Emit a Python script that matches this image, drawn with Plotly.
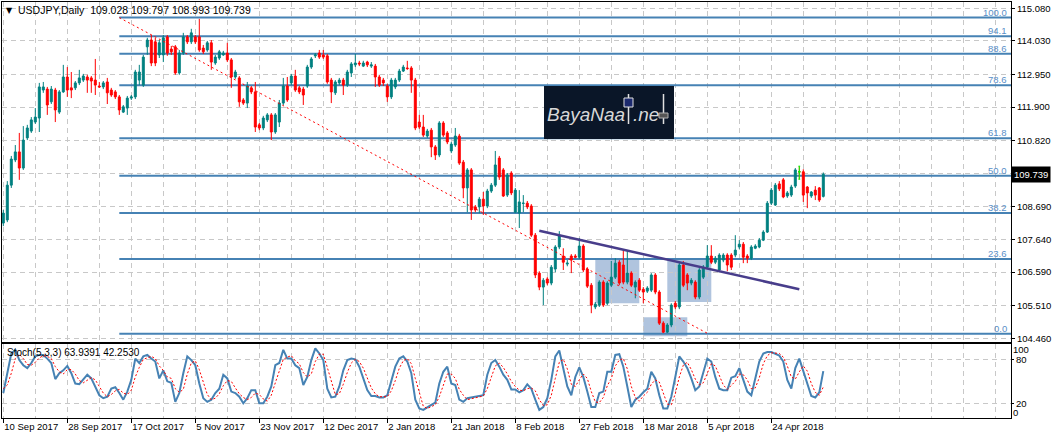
import plotly.graph_objects as go

# ---------------- data ----------------
date_labels = ["10 Sep 2017", "28 Sep 2017", "17 Oct 2017", "5 Nov 2017", "23 Nov 2017",
               "12 Dec 2017", "2 Jan 2018", "21 Jan 2018", "8 Feb 2018", "27 Feb 2018",
               "18 Mar 2018", "5 Apr 2018", "24 Apr 2018"]
date_label_bars = [0, 16, 32, 48, 64, 80, 96, 112, 128, 144, 160, 176, 192]

open_ = [
    108.17, 108.27, 109.39, 110.20, 110.46, 109.94, 110.91, 111.13, 111.42, 111.55,
    112.45, 112.48, 112.07, 112.45, 111.74, 112.39, 112.87, 112.52, 112.52, 112.68,
    112.77, 112.87, 112.84, 112.77, 112.58, 112.55, 112.71, 112.45, 112.39, 112.23,
    111.74, 111.87, 112.19, 112.23, 112.77, 112.61, 113.84, 114.06, 114.00, 113.58,
    113.58, 114.16, 113.77, 113.84, 113.00, 113.64, 114.16, 114.00, 114.16, 114.16,
    113.80, 113.74, 113.97, 113.32, 113.48, 113.58, 113.64, 113.42, 112.87, 112.84,
    112.13, 112.03, 112.52, 112.39, 111.33, 111.23, 111.49, 111.65, 111.10, 111.42,
    112.03, 112.58, 112.68, 112.90, 112.52, 112.48, 112.58, 113.19, 113.55, 113.64,
    113.58, 113.55, 112.77, 112.36, 112.68, 112.77, 112.61, 113.00, 113.26, 113.32,
    113.22, 113.35, 113.22, 113.22, 112.87, 112.77, 112.58, 112.23, 112.55, 112.77,
    113.06, 113.16, 113.16, 112.77, 111.42, 111.26, 110.97, 111.16, 110.62, 110.36,
    111.39, 111.07, 110.49, 110.68, 110.97, 110.13, 109.30, 109.88, 108.69, 108.69,
    108.94, 108.72, 109.20, 109.39, 110.26, 109.88, 109.07, 109.78, 108.52, 108.49,
    108.80, 108.81, 108.72, 107.78, 106.56, 106.11, 106.37, 106.24, 106.69, 107.40,
    107.11, 106.85, 107.11, 107.11, 107.07, 107.43, 106.69, 106.17, 105.47, 105.53,
    106.27, 105.59, 106.17, 106.43, 106.91, 106.82, 106.27, 106.56, 106.11, 106.33,
    106.04, 105.98, 106.01, 106.50, 105.95, 104.95, 104.66, 104.89, 105.59, 105.47,
    106.82, 106.50, 106.24, 106.27, 105.79, 106.43, 106.75, 107.11, 106.91, 106.66,
    106.98, 107.14, 107.14, 107.14, 107.40, 107.49, 107.11, 107.04, 107.36, 107.40,
    107.62, 107.88, 108.81, 108.75, 109.43, 109.56, 109.04, 109.07, 109.36, 109.82,
    109.82, 109.33, 109.04, 109.23, 109.30, 109.028]

high_ = [
    108.59, 109.52, 110.33, 110.68, 111.07, 111.29, 111.33, 111.58, 111.87, 112.68,
    112.71, 112.55, 112.58, 112.52, 112.45, 113.26, 113.19, 113.03, 112.74, 113.10,
    112.97, 112.94, 112.90, 113.45, 112.71, 112.74, 112.84, 112.52, 112.45, 112.29,
    111.97, 112.26, 112.29, 113.10, 113.26, 113.58, 114.13, 114.22, 114.13, 114.06,
    114.22, 114.22, 113.87, 113.90, 113.74, 114.29, 114.22, 114.42, 114.22, 114.74,
    113.90, 114.03, 114.06, 113.58, 113.74, 113.71, 113.97, 113.48, 113.10, 112.90,
    112.19, 112.71, 112.58, 112.71, 111.39, 111.62, 111.71, 111.71, 111.71, 112.13,
    112.84, 112.87, 112.97, 113.10, 112.58, 112.55, 113.26, 113.51, 113.64, 113.74,
    113.74, 113.61, 112.84, 112.77, 112.84, 112.84, 113.10, 113.35, 113.61, 113.39,
    113.39, 113.39, 113.35, 113.29, 112.94, 112.84, 112.65, 112.84, 112.84, 113.13,
    113.26, 113.39, 113.22, 112.84, 111.65, 111.65, 111.20, 111.23, 110.68, 111.45,
    111.45, 111.13, 110.78, 111.23, 111.04, 110.20, 109.94, 109.94, 108.75, 109.01,
    109.17, 109.27, 109.46, 110.49, 110.33, 109.94, 109.78, 109.84, 109.30, 109.23,
    109.07, 108.88, 108.78, 107.85, 106.62, 106.40, 106.43, 106.82, 107.46, 107.91,
    107.36, 106.98, 107.17, 107.17, 107.69, 107.49, 106.75, 106.24, 105.63, 106.33,
    106.33, 106.30, 106.95, 107.04, 106.98, 107.30, 107.30, 106.62, 106.33, 106.40,
    106.11, 106.14, 106.56, 106.56, 106.01, 105.01, 104.95, 105.59, 105.66, 106.91,
    106.95, 106.56, 106.40, 106.33, 106.72, 106.82, 107.46, 107.46, 107.11, 107.20,
    107.20, 107.20, 107.20, 107.78, 107.62, 107.56, 107.17, 107.46, 107.49, 107.69,
    107.94, 108.88, 109.30, 109.46, 109.52, 109.62, 109.20, 109.40, 109.94, 110.00,
    109.90, 109.36, 109.20, 109.36, 109.33, 109.797]

low_ = [
    108.07, 108.20, 109.30, 110.13, 109.56, 109.88, 110.84, 111.07, 111.36, 111.10,
    112.36, 111.65, 112.00, 111.42, 111.68, 112.36, 112.23, 112.19, 112.45, 112.61,
    112.71, 112.36, 112.36, 112.29, 112.52, 112.48, 112.00, 112.23, 112.16, 111.65,
    111.71, 111.65, 112.13, 112.16, 112.61, 112.55, 113.58, 113.22, 113.22, 113.48,
    113.35, 113.55, 113.58, 112.94, 112.94, 113.58, 113.93, 113.93, 113.93, 113.68,
    113.61, 113.68, 113.10, 113.26, 113.42, 113.55, 113.35, 112.52, 112.81, 111.91,
    111.97, 111.87, 112.32, 111.10, 111.16, 111.16, 111.42, 110.84, 111.04, 111.26,
    111.97, 112.07, 112.61, 112.39, 112.32, 111.97, 112.52, 113.13, 113.48, 113.45,
    113.45, 112.65, 112.03, 112.29, 112.61, 112.29, 112.55, 112.87, 113.19, 113.22,
    113.19, 113.19, 113.16, 112.55, 112.55, 112.58, 112.07, 112.16, 112.48, 112.71,
    113.03, 113.10, 112.36, 111.16, 111.20, 110.94, 110.91, 110.29, 110.20, 110.29,
    110.94, 110.71, 110.42, 110.62, 110.04, 108.97, 108.52, 108.27, 108.52, 108.49,
    108.43, 108.65, 109.14, 109.33, 109.56, 109.01, 109.01, 109.07, 108.49, 108.01,
    108.52, 108.62, 107.72, 106.40, 106.01, 105.53, 106.17, 106.17, 106.59, 107.33,
    106.66, 106.78, 106.56, 107.04, 107.01, 106.59, 106.08, 105.27, 105.40, 105.47,
    105.47, 105.53, 106.11, 106.37, 106.17, 106.20, 106.20, 106.11, 105.75, 105.95,
    105.59, 105.92, 105.95, 105.88, 104.89, 104.63, 104.63, 104.82, 105.40, 105.40,
    106.11, 106.01, 106.17, 105.72, 105.72, 106.37, 106.69, 106.85, 106.85, 106.59,
    106.91, 106.62, 106.66, 107.07, 107.33, 106.88, 106.88, 106.98, 107.33, 107.36,
    107.59, 107.85, 108.75, 108.72, 109.20, 108.97, 108.98, 109.01, 109.30, 109.58,
    108.85, 108.65, 108.98, 108.91, 108.85, 108.993]

close_ = [
    108.49, 109.39, 110.23, 110.46, 109.94, 110.84, 111.23, 111.49, 111.58, 112.55,
    112.55, 111.97, 112.48, 111.81, 112.39, 112.87, 112.45, 112.45, 112.68, 112.84,
    112.90, 112.77, 112.74, 112.61, 112.55, 112.68, 112.36, 112.29, 112.23, 111.81,
    111.91, 112.19, 112.23, 113.03, 113.03, 113.51, 114.06, 113.32, 113.32, 113.97,
    114.13, 113.64, 113.68, 113.00, 113.64, 114.16, 114.00, 114.29, 114.00, 113.74,
    113.68, 113.97, 113.35, 113.51, 113.68, 113.64, 113.42, 112.87, 113.03, 112.07,
    112.03, 112.58, 112.39, 111.26, 111.23, 111.55, 111.65, 111.10, 111.65, 112.03,
    112.58, 112.13, 112.90, 112.45, 112.39, 112.29, 113.19, 113.45, 113.58, 113.51,
    113.51, 112.71, 112.39, 112.71, 112.77, 112.61, 113.03, 113.29, 113.32, 113.29,
    113.32, 113.26, 113.26, 112.87, 112.61, 112.68, 112.23, 112.77, 112.77, 113.06,
    113.19, 113.14, 112.77, 111.23, 111.26, 111.00, 111.13, 110.62, 110.36, 111.39,
    111.00, 110.78, 110.71, 110.97, 110.10, 109.30, 109.88, 108.59, 108.59, 108.94,
    108.72, 109.20, 109.39, 110.04, 109.65, 109.04, 109.72, 109.14, 109.23, 108.85,
    108.81, 108.69, 107.78, 106.50, 106.11, 106.33, 106.24, 106.75, 107.40, 107.78,
    106.91, 106.88, 106.98, 107.07, 107.43, 106.66, 106.14, 105.53, 105.56, 106.27,
    105.53, 106.24, 106.43, 106.88, 106.24, 106.27, 106.56, 106.17, 106.27, 106.01,
    105.95, 106.08, 106.50, 105.95, 104.95, 104.66, 104.89, 105.53, 105.47, 106.82,
    106.17, 106.24, 106.33, 105.79, 106.66, 106.75, 107.11, 106.91, 107.04, 107.14,
    107.14, 106.82, 106.75, 107.30, 107.49, 107.07, 107.04, 107.40, 107.43, 107.62,
    107.88, 108.81, 109.23, 109.39, 109.27, 109.01, 109.14, 109.33, 109.88, 109.82,
    109.07, 109.14, 109.17, 109.07, 108.91, 109.739]

stoch_k = [
    34, 61, 88, 93, 79, 72, 68, 75, 84, 86,
    86, 81, 75, 53, 61, 65, 71, 61, 47, 46,
    52, 59, 54, 43, 31, 27, 29, 40, 42, 34,
    25, 36, 52, 81, 75, 84, 86, 81, 77, 54,
    65, 50, 48, 22, 34, 61, 84, 79, 72, 47,
    27, 22, 25, 34, 40, 59, 54, 36, 34, 29,
    20, 27, 38, 38, 20, 20, 29, 43, 72, 75,
    93, 81, 81, 72, 68, 45, 56, 79, 95, 88,
    79, 40, 28, 29, 43, 65, 79, 81, 80, 70,
    54, 38, 30, 30, 28, 28, 31, 52, 70, 81,
    84, 77, 61, 25, 13, 11, 15, 18, 21, 47,
    63, 70, 47, 45, 25, 22, 27, 28, 29, 29,
    31, 59, 75, 79, 70, 59, 52, 39, 39, 35,
    38, 46, 40, 25, 11, 15, 27, 52, 84, 92,
    65, 43, 31, 56, 69, 56, 36, 15, 15, 34,
    36, 63, 63, 86, 87, 70, 43, 15, 25, 29,
    35, 40, 63, 54, 31, 13, 13, 29, 56, 84,
    77, 68, 54, 38, 43, 63, 81, 77, 56, 40,
    38, 38, 55, 57, 68, 52, 36, 31, 56, 77,
    88, 90, 90, 88, 85, 77, 52, 40, 68, 81,
    65, 47, 30, 28, 35, 63.9391]

stoch_d = [
    40, 45, 61, 81, 87, 81, 73, 72, 76, 82,
    85, 84, 81, 70, 63, 60, 66, 66, 60, 51,
    48, 52, 55, 52, 43, 34, 29, 32, 37, 39,
    34, 32, 38, 56, 69, 80, 82, 84, 81, 71,
    65, 56, 54, 40, 35, 39, 60, 75, 78, 66,
    49, 32, 25, 27, 33, 44, 51, 50, 41, 33,
    28, 25, 28, 34, 32, 26, 23, 31, 48, 63,
    80, 83, 85, 78, 74, 62, 56, 60, 77, 87,
    87, 69, 49, 32, 33, 46, 62, 75, 80, 77,
    68, 54, 41, 33, 29, 29, 29, 37, 51, 68,
    78, 81, 74, 54, 33, 16, 13, 15, 18, 29,
    44, 60, 60, 54, 39, 31, 25, 26, 28, 29,
    30, 40, 55, 71, 75, 69, 60, 50, 43, 38,
    37, 40, 41, 37, 25, 17, 18, 31, 54, 76,
    80, 67, 46, 43, 52, 60, 54, 36, 22, 21,
    28, 44, 54, 71, 79, 81, 67, 43, 28, 23,
    30, 35, 46, 52, 49, 33, 19, 18, 33, 56,
    72, 76, 66, 53, 45, 48, 62, 74, 71, 58,
    45, 39, 44, 50, 60, 59, 52, 40, 41, 55,
    74, 85, 89, 89, 88, 83, 71, 56, 53, 63,
    71, 64, 47, 35, 31, 42.2530]

price_ticks = [104.46, 105.51, 106.59, 107.64, 108.69, 109.77, 110.82, 111.90, 112.95, 114.03, 115.08]
price_tick_labels = ["104.460", "105.510", "106.590", "107.640", "108.690", "",
                     "110.820", "111.900", "112.950", "114.030", "115.080"]

fib_levels = [0.0, 23.6, 38.2, 50.0, 61.8, 78.6, 88.6, 94.1, 100.0]
fib_low, fib_high = 104.61, 114.78
fib_bar_high, fib_bar_low = 29.0, 176.2

trend_bars = [134, 199]
trend_prices = [107.92, 106.04]

zones = [  # (bar start, bar end, price low, price high)
    (148, 159, 105.59, 106.98),
    (166, 177, 105.63, 107.04),
    (160, 171, 104.53, 105.14),
]

symbol = "USDJPY,Daily"
stoch_name = "Stoch(5,3,3)"
last_ohlc = (109.028, 109.797, 108.993, 109.739)

# ---------------- figure ----------------
W, H = 1053, 439
ML, MR, MT, MB = 2, 42, 2, 21
PW, PH = W - ML - MR, H - MT - MB

def px(x):
    return (x - ML) / PW

def py(y):
    return (H - MB - y) / PH

bars = list(range(len(close_)))
x_range = [-0.325, 251.925]

FONT = "Liberation Sans, Arial, sans-serif"
FS = 9.5
TEAL = "#008080"
RED = "#FF0000"
STEEL = "#4682B4"
GRID = "#C8C8C8"
GDASH = "5px,4px"

fig = go.Figure()

fig.add_trace(go.Candlestick(
    x=bars, open=open_, high=high_, low=low_, close=close_,
    increasing=dict(line=dict(color=TEAL, width=1), fillcolor=TEAL),
    decreasing=dict(line=dict(color=RED, width=1), fillcolor=RED),
    whiskerwidth=0, xaxis="x", yaxis="y", showlegend=False, hoverinfo="skip"))

doji = [i for i in bars if open_[i] == close_[i]]
fig.add_trace(go.Candlestick(
    x=doji, open=[open_[i] for i in doji], high=[high_[i] for i in doji],
    low=[low_[i] for i in doji], close=[close_[i] for i in doji],
    increasing=dict(line=dict(color="#00FF00", width=1), fillcolor="#00FF00"),
    decreasing=dict(line=dict(color="#00FF00", width=1), fillcolor="#00FF00"),
    whiskerwidth=0.9, xaxis="x", yaxis="y", showlegend=False, hoverinfo="skip"))

fig.add_trace(go.Scatter(x=bars, y=stoch_k, mode="lines", xaxis="x2", yaxis="y2",
                         line=dict(color=STEEL, width=2), showlegend=False, hoverinfo="skip"))
fig.add_trace(go.Scatter(x=bars, y=stoch_d, mode="lines", xaxis="x2", yaxis="y2",
                         line=dict(color=RED, width=1, dash="2px,2px"), showlegend=False,
                         hoverinfo="skip"))

shapes = []
annotations = []

# zones
for b0, b1, p0, p1 in zones:
    shapes.append(dict(type="rect", xref="x", yref="y", x0=b0, x1=b1, y0=p0, y1=p1,
                       fillcolor="#B0C4DE", line=dict(width=0), layer="below"))

# fibonacci levels
for lvl in fib_levels:
    yv = fib_low + (fib_high - fib_low) * lvl / 100.0
    shapes.append(dict(type="line", xref="x", yref="y", x0=fib_bar_high, x1=x_range[1],
                       y0=yv, y1=yv, line=dict(color=STEEL, width=2), layer="between"))
    annotations.append(dict(xref="x", yref="y", x=x_range[1] - 0.4, y=yv, text=f"{lvl:.1f}",
                            xanchor="right", yanchor="bottom", showarrow=False, yshift=-2,
                            font=dict(family=FONT, size=FS, color="#5A8FC8")))

# fib diagonal
shapes.append(dict(type="line", xref="x", yref="y", x0=fib_bar_high, x1=fib_bar_low,
                   y0=fib_high, y1=fib_low, line=dict(color=RED, width=1, dash="2px,3px")))
# trend line
shapes.append(dict(type="line", xref="x", yref="y", x0=trend_bars[0], x1=trend_bars[1],
                   y0=trend_prices[0], y1=trend_prices[1],
                   line=dict(color="#483D8B", width=2.5)))

# logo
LOGO_FONT = "Liberation Sans Narrow, Liberation Sans"
shapes.append(dict(type="rect", xref="paper", yref="paper", x0=px(544), x1=px(674),
                   y0=py(139), y1=py(86), fillcolor="#0A1628", line=dict(width=0)))
annotations.append(dict(xref="paper", yref="paper", x=px(545), y=py(114), text="BayaNaa",
                        xanchor="left", yanchor="middle", showarrow=False,
                        font=dict(family=LOGO_FONT, size=19, color="#D8D8D8", style="italic")))
shapes.append(dict(type="line", xref="paper", yref="paper", x0=px(628.5), x1=px(628.5),
                   y0=py(124), y1=py(94), line=dict(color="#E0E0E0", width=1.5)))
shapes.append(dict(type="rect", xref="paper", yref="paper", x0=px(624), x1=px(633),
                   y0=py(107), y1=py(98), fillcolor="#1C2A6E", line=dict(color="#E0E0E0", width=1)))
annotations.append(dict(xref="paper", yref="paper", x=px(631), y=py(114), text=".ne",
                        xanchor="left", yanchor="middle", showarrow=False,
                        font=dict(family=LOGO_FONT, size=19, color="#D8D8D8", style="italic")))
shapes.append(dict(type="line", xref="paper", yref="paper", x0=px(663.5), x1=px(663.5),
                   y0=py(124), y1=py(94), line=dict(color="#E0E0E0", width=1.5)))
shapes.append(dict(type="rect", xref="paper", yref="paper", x0=px(659), x1=px(668),
                   y0=py(118), y1=py(113), fillcolor="#555555", line=dict(color="#B0B0B0", width=1)))

# headers
annotations.append(dict(xref="paper", yref="paper", x=px(4), y=py(10), text="▼",
                        xanchor="left", yanchor="middle", showarrow=False,
                        font=dict(family="DejaVu Sans", size=8, color="black")))
annotations.append(dict(xref="paper", yref="paper", x=px(16), y=py(10),
                        text=f"{symbol}  " + " ".join(f"{v:.3f}" for v in last_ohlc),
                        xanchor="left", yanchor="middle", showarrow=False,
                        font=dict(family=FONT, size=10.5, color="black")))
annotations.append(dict(xref="paper", yref="paper", x=px(5), y=py(352),
                        text=f"{stoch_name} {stoch_k[-1]:.4f} {stoch_d[-1]:.4f}",
                        xanchor="left", yanchor="middle", showarrow=False,
                        font=dict(family=FONT, size=10, color="black")))

# current price box
annotations.append(dict(xref="paper", yref="y", x=1, y=close_[-1], text=f"{close_[-1]:.3f}",
                        xanchor="left", yanchor="middle", showarrow=False, xshift=0,
                        bgcolor="black", borderpad=2,
                        font=dict(family=FONT, size=FS, color="white")))

# stochastic 100 / 0 labels (offset inward like the terminal does)
annotations.append(dict(xref="paper", yref="y2", x=1, y=93.0, text="100", xanchor="left",
                        yanchor="middle", showarrow=False, xshift=0,
                        font=dict(family=FONT, size=FS, color="black")))
annotations.append(dict(xref="paper", yref="y2", x=1, y=8.0, text="0", xanchor="left",
                        yanchor="middle", showarrow=False, xshift=0,
                        font=dict(family=FONT, size=FS, color="black")))

grid_bars = list(range(0, 252, 8))
main_dom = [(H - MB - 341.7) / PH, 1]
stoch_dom = [0, (H - MB - 344) / PH]
y_top = 115.347 - 2 * 0.032175
y_bot = 115.347 - 341.7 * 0.032175

axis_common = dict(showline=True, mirror=True, linecolor="black", linewidth=1,
                   zeroline=False, showgrid=True, gridcolor=GRID, griddash=GDASH,
                   gridwidth=1, automargin=False)

fig.update_layout(
    width=W, height=H,
    margin=dict(l=ML, r=MR, t=MT, b=MB, autoexpand=False),
    paper_bgcolor="white", plot_bgcolor="white",
    showlegend=False, hovermode=False,
    shapes=shapes, annotations=annotations,
    xaxis=dict(domain=[0, 1], anchor="y", range=x_range, tickvals=date_label_bars,
               showticklabels=False, ticks="", rangeslider=dict(visible=False),
               minor=dict(tickvals=grid_bars, showgrid=True, gridcolor=GRID,
                          griddash=GDASH, ticks=""),
               **axis_common),
    yaxis=dict(domain=main_dom, anchor="x", side="right", range=[y_bot, y_top],
               tickvals=price_ticks, ticktext=price_tick_labels, ticks="outside",
               ticklen=3, tickcolor="black",
               tickfont=dict(family=FONT, size=FS, color="black"), **axis_common),
    xaxis2=dict(domain=[0, 1], anchor="y2", range=x_range, matches="x",
                tickvals=date_label_bars, ticktext=date_labels, ticks="outside",
                ticklen=4, tickcolor="black", ticklabelposition="outside right",
                tickangle=0,
                tickfont=dict(family=FONT, size=FS, color="black"),
                rangeslider=dict(visible=False),
                minor=dict(tickvals=grid_bars, showgrid=True, gridcolor=GRID,
                           griddash=GDASH, ticks=""),
                **axis_common),
    yaxis2=dict(domain=stoch_dom, anchor="x2", side="right", range=[0, 100.9],
                tickvals=[20, 80], ticktext=["20", "80"], ticks="outside", ticklen=2,
                tickcolor="black", tickfont=dict(family=FONT, size=FS, color="black"),
                **axis_common),
)

fig.write_html("out.html", config={"displayModeBar": False, "staticPlot": True},
               post_script="document.body.style.margin='0';")
